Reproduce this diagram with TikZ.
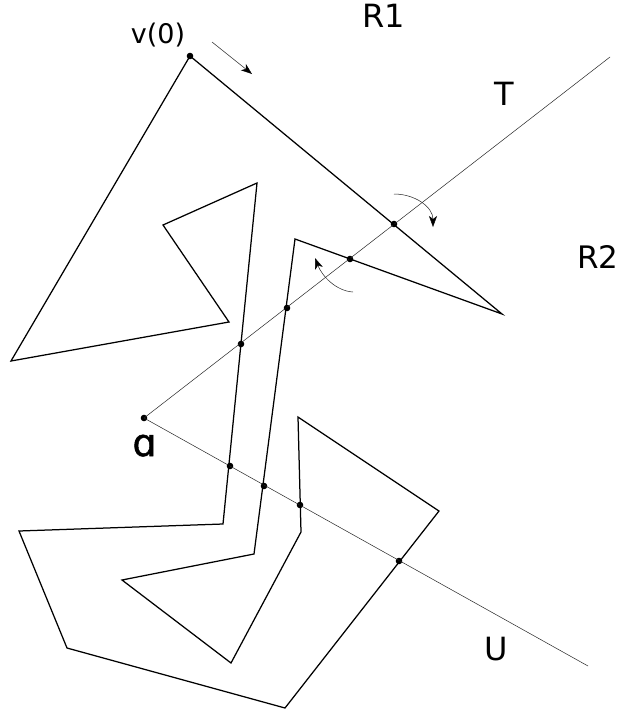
\documentclass[tikz,border=0pt]{standalone}
\usepackage{fontspec}
\setmainfont{DejaVu Sans}
\usetikzlibrary{arrows.meta}
\tikzset{
  x=1pt,y=-1pt,
  poly/.style={line width=1.25pt,line join=miter,black},
  ray/.style={line width=.5pt,black!85},
  dot/.style={circle,fill=black,inner sep=0pt,minimum size=6.6pt},
  lab/.style={inner sep=0pt,anchor=base,font=\fontsize{#1}{#1}\selectfont},
  flow/.style={line width=.5pt,black!85,-{Stealth[length=11pt,width=8pt,inset=3pt,black]}}
}
\begin{document}
\begin{tikzpicture}
\useasboundingbox (0,0) rectangle (618,713);
\fill[white] (0,0) rectangle (618,713);
% polygon corners
\foreach \n/\p in {p2/{502,314},p3/{295,239},p4/{254,554},p5/{122,580},p6/{231,663},p7/{301,532},p8/{298,417},p9/{439,511},p10/{285,708},p11/{67,648},p12/{19,531},p13/{223,524},p14/{257,183},p15/{163,225},p16/{229,322},p17/{11,361},t/{610,57},u/{588,666},m1s/{212,42},m1e/{252,74},c1s/{394,194},c1e/{433,227},c2s/{353,292},c2e/{315,258}}
  {\coordinate (\n) at (\p);}
\node[dot] (v0) at (190,56) {};
\node[dot] (a) at (144,418) {};
\node[dot] (t1) at (394,224) {};
\node[dot] (t2) at (350,259) {};
\node[dot] (t3) at (287,308) {};
\node[dot] (t4) at (241,344) {};
\node[dot] (u1) at (230,466) {};
\node[dot] (u2) at (264,486) {};
\node[dot] (u3) at (300,505) {};
\node[dot] (u4) at (399,561) {};
\draw[ray] (a.center) -- (t);
\draw[ray] (a.center) -- (u);
\draw[poly] (v0.center) -- (p2) -- (p3) -- (p4) -- (p5) -- (p6) -- (p7) -- (p8) -- (p9) -- (p10) -- (p11) -- (p12) -- (p13) -- (p14) -- (p15) -- (p16) -- (p17) -- cycle;
\draw[flow] (m1s) -- (m1e);
\draw[flow] (c1s) .. controls (415,194) and (433,207) .. (c1e);
\draw[flow] (c2s) .. controls (336,291) and (322,276) .. (c2e);
\node[lab=27pt] (lv) at (158,43) {v(0)};
\node[lab=32pt] (lr1) at (383.5,27) {R1};
\node[lab=32pt] (lt) at (504,105) {T};
\node[lab=31pt] (lr2) at (598,268) {R2};
\node[lab=32pt] (lu) at (496,660) {U};
\node[lab=38pt] (la) at (144.5,456) {\special{pdf:literal 0.5 w 2 Tr}ɑ\special{pdf:literal 0 Tr}};
\end{tikzpicture}
\end{document}
